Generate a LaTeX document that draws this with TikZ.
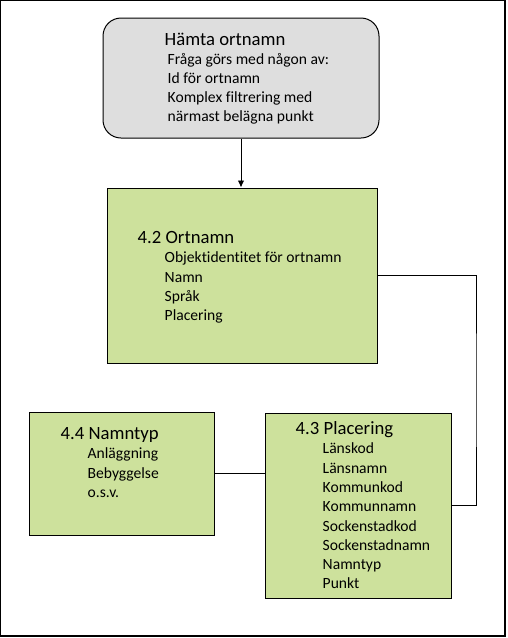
\documentclass[tikz,border=0pt]{standalone}
\usepackage{fontspec}
\setmainfont{Carlito}[Ligatures=NoCommon]
\usepackage{tikz}
\usetikzlibrary{arrows.meta, positioning, calc}
\definecolor{boxgreen}{RGB}{205,225,156}
\definecolor{boxgray}{RGB}{222,222,222}
\tikzstyle{query} = [rectangle, rounded corners=18pt, draw=black, fill=boxgray, line width=1pt]
\tikzstyle{entity} = [rectangle, draw=black, fill=boxgreen, line width=1pt]
\tikzstyle{lines} = [anchor=base west, inner sep=0pt, font=\fontsize{15.6}{19.3}\selectfont]
\tikzstyle{arrow} = [line width=0.9pt,->,>={Latex[length=7pt,width=6.5pt]}]
\tikzstyle{link} = [line width=0.9pt]
% title on the first line, the items indented below it
\newcommand{\entitylines}[3]{\begin{tabular}[t]{@{\hspace{#1}}l@{}}\multicolumn{1}{@{}l@{}}{\fontsize{18.7}{22}\selectfont #2}\\ #3\end{tabular}}

\begin{document}
\begin{tikzpicture}[x=1pt, y=-1pt]
\useasboundingbox (0,0) rectangle (508,638);
\draw [line width=1.2pt] (0.6,0.6) rectangle (505,636);

% Boxes
\node (hamta) [query, minimum width=276pt, minimum height=120pt] at (241,78) {};
\node (ortnamn) [entity, minimum width=270pt, minimum height=175pt] at (242,275.5) {};
\node (placering) [entity, minimum width=186pt, minimum height=185pt] at (358,505.5) {};
\node (namntyp) [entity, minimum width=185pt, minimum height=123pt] at (121.5,473.5) {};

% Texts
\node (hamtaText) [lines, font=\fontsize{15.6}{18.9}\selectfont] at ($(hamta.north west)+(62,28)$)
  {\entitylines{3pt}{Hämta ortnamn}{Fråga görs med någon av:\\ Id för ortnamn\\ Komplex filtrering med\\ närmast belägna punkt}};
\node (ortnamnText) [lines] at ($(ortnamn.north west)+(31,56)$)
  {\entitylines{27pt}{4.2 Ortnamn}{Objektidentitet för ortnamn\\ Namn\\ Språk\\ Placering}};
\node (placeringText) [lines] at ($(placering.north west)+(31,22)$)
  {\entitylines{27pt}{4.3 Placering}{Länskod\\ Länsnamn\\ Kommunkod\\ Kommunnamn\\ Sockenstadkod\\ Sockenstadnamn\\ Namntyp\\ Punkt}};
\node (namntypText) [lines] at ($(namntyp.north west)+(32,28)$)
  {\entitylines{27pt}{4.4 Namntyp}{Anläggning\\ Bebyggelse\\ o.s.v.}};

% Connectors
\coordinate (bend) at (476,390);
\draw [arrow] (hamta.south) -- (hamta.south |- ortnamn.north);
\draw [link] (ortnamn.east) -| (bend) |- (placering.east);
\draw [link] (namntyp.east) -- (namntyp.east -| placering.west);

\end{tikzpicture}
\end{document}
